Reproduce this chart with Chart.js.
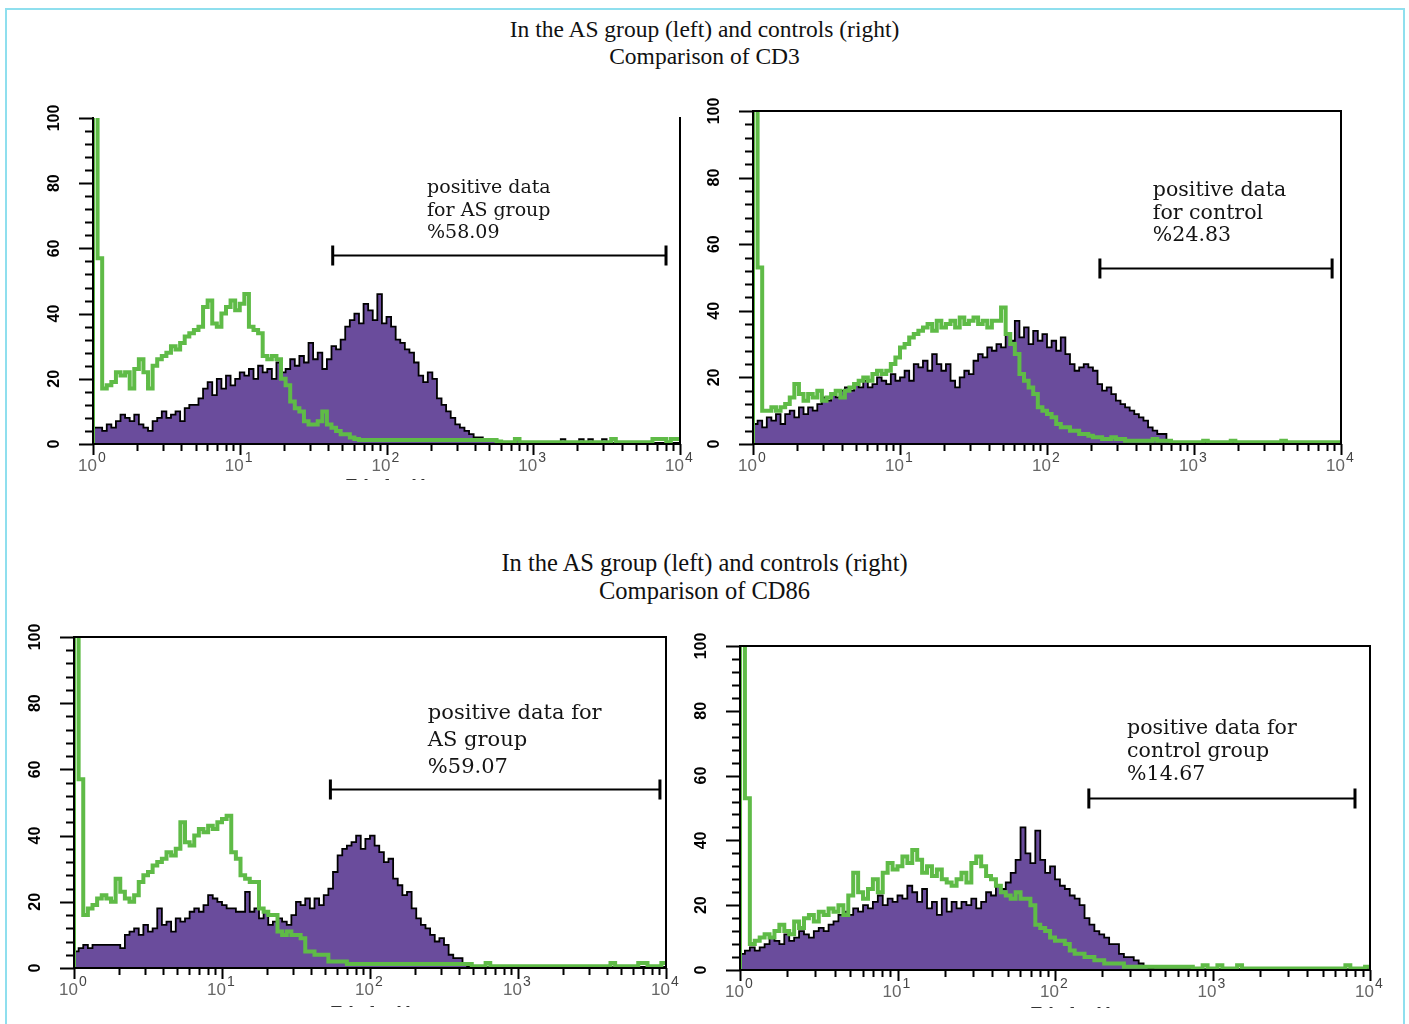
<!DOCTYPE html>
<html>
<head>
<meta charset="utf-8">
<script src="https://cdn.jsdelivr.net/npm/chart.js@4.4.0/dist/chart.umd.min.js"></script>
<style>
  body { margin: 0; background: #fff; width: 1409px; height: 1024px; overflow: hidden; position: relative; }
  .frame { position: absolute; left: 5px; top: 8px; width: 1396px; height: 1100px; border: 2px solid #8fdfee; }
  .title { position: absolute; left: 0; width: 1409px; text-align: center; font-family: "Liberation Serif", serif; color: #111; }
  .cut { position: absolute; height: 4px; overflow: hidden; font: bold 20px "Liberation Sans"; letter-spacing: 6px; color: #333; line-height: 20px; }
  canvas { position: absolute; }
</style>
</head>
<body>
<div class="frame"></div>
<div class="title" style="top:16px;font-size:23.5px;line-height:27px">In the AS group (left) and controls (right)<br>Comparison of CD3</div>
<div class="title" style="top:549px;font-size:24.5px;line-height:28px">In the AS group (left) and controls (right)<br>Comparison of CD86</div>
<canvas id="cd3As"></canvas>
<canvas id="cd3Ctrl"></canvas>
<canvas id="cd86As"></canvas>
<canvas id="cd86Ctrl"></canvas>
<div class="cut" style="left:345px;top:476px">FL1-H</div>
<div class="cut" style="left:330px;top:1003px">FL1-H</div>
<div class="cut" style="left:1030px;top:1004px">FL1-H</div>
<script>
// histogram channels: 32 log bins per decade, 10^0 .. 10^4 (lower edges + last edge)
const BINS_PER_DECADE = 32;
const channels = Array.from({ length: 129 }, (_, i) => Math.pow(10, i / BINS_PER_DECADE));
const yTicks = [0, 20, 40, 60, 80, 100];
const xDecades = [1, 10, 100, 1000, 10000];
const xExponents = ['0', '1', '2', '3', '4'];

// CD3, AS group (purple = stained, green = isotype)
const cd3AsStained = [
  5,5,4,6,5,7,9,8,7,9,6,5,4,7,8,10,
  8,9,10,7,11,12,12,14,17,19,15,20,17,21,18,20,
  22,21,23,20,24,22,23,20,25,22,23,26,24,27,25,31,
  26,28,23,26,30,29,32,36,38,40,37,43,41,38,46,37,
  39,36,32,31,29,28,25,21,19,22,20,14,12,10,8,6,
  5,4,3,2,2,1,1,1,0.5,0.5,0.5,0.5,1.5,0.5,0.3,0.3,
  0.3,0.3,0.3,0.3,0.3,0.3,1.5,0.3,0.3,0.3,1.5,0.3,1.5,0.3,0.3,1.5,
  0.3,0.3,0.3,0.3,0.3,0.3,0.3,0.3,0.3,0.3,0.3,0.3,0.3,0.3,0.3,0.3
];
const cd3AsIso = [
  120,57,17,18,19,22,21,22,17,23,26,22,17,24,26,27,
  28,30,29,31,33,34,35,36,42,44,37,36,40,42,44,41,
  43,46,36,35,34,27,26,27,26,20,18,13,11,10,7,6,
  6,7,10,6,5,4,3,3,2,1.5,1.2,1.2,1.2,1.2,1.2,1.2,
  1.2,1.2,1.2,1.2,1.2,1.2,1.2,1.2,1.2,1.2,1.2,1.2,1.2,1.2,1.2,1.2,
  1.2,1.2,1.2,1.2,1.2,1.2,1.2,1.2,0.8,0.5,0.5,0.5,1.5,0.5,0.5,0.5,
  0.5,0.5,0.5,0.5,0.5,0.5,0.5,0.5,0.5,0.5,0.5,0.5,0.5,0.5,0.5,0.5,
  0.5,1.5,0.5,0.5,0.5,0.5,0.5,0.5,0.5,0.5,1.5,1.5,1.5,0.5,1.5,1.5
];

// CD3, controls
const cd3CtrlStained = [
  6,7,5,8,7,9,6,9,10,8,11,9,11,10,12,14,
  13,15,14,16,17,16,18,17,19,17,18,20,19,18,21,19,
  20,22,19,24,23,25,22,27,24,22,24,19,17,20,22,21,
  25,27,26,29,28,30,29,33,31,37,32,35,30,34,31,33,
  29,31,28,32,27,24,22,23,24,23,22,18,16,17,15,13,
  12,11,10,9,8,7,5,4,3,3,1,0.5,0.5,0.5,0.5,0.5,
  0.5,0.5,0.5,0.5,0.5,0.5,0.5,0.5,0.5,0.5,0.5,0.5,0.5,0.5,0.5,0.5,
  0.3,0.3,0.3,0.3,0.3,0.3,0.3,0.3,0.3,0.3,0.3,0.3,0.3,0.3,0.3,0.3
];
const cd3CtrlIso = [
  120,53,10,10,11,10,11,12,14,18,15,13,15,14,16,13,
  14,15,16,14,16,17,18,19,20,19,21,22,21,22,24,26,
  29,30,32,33,34,35,36,34,37,35,36,37,35,38,36,37,
  38,36,37,35,37,37,41,33,30,27,21,19,17,15,11,10,
  9,8,6,5,5,4,4,3,3,2.5,2,2,1.5,1.5,2,1.5,
  1.5,1,1,1,1,1,1,1.5,1,1,1,0.5,0.5,0.5,0.5,0.5,
  0.5,0.5,1,0.5,0.5,0.5,0.5,0.5,1,0.5,0.5,0.5,0.5,0.5,0.5,0.5,
  0.5,0.5,0.5,1,0.5,0.5,0.5,0.5,0.5,0.5,0.5,0.5,0.5,0.5,0.5,0.5
];

// CD86, AS group
const cd86AsStained = [
  5,6,7,6,7,7,7,7,7,7,6,10,11,12,10,13,
  11,12,18,13,14,11,15,14,15,17,18,17,19,22,21,20,
  19,18,18,17,17,23,17,18,15,17,13,14,15,14,13,16,
  20,19,21,18,21,19,22,24,29,34,36,37,38,40,36,39,
  40,37,35,32,33,27,25,22,23,18,15,13,12,10,8,9,
  7,4,3,3,1,0.5,0.3,0.3,0.3,0.3,0.3,0.3,0.3,0.3,0.3,0.3,
  0.3,0.3,0.3,0.3,0.3,0.3,0.3,0.3,0.3,0.3,0.3,0.3,0.3,0.3,0.3,0.3,
  0.3,0.3,0.3,0.3,0.3,0.3,0.3,0.3,0.3,0.3,0.3,0.3,0.3,0.3,0.3,0.3
];
const cd86AsIso = [
  120,57,16,18,19,21,22,21,20,27,23,21,20,22,26,28,
  29,31,32,33,35,34,36,44,38,37,40,42,41,43,42,44,
  45,46,35,33,28,27,26,26,18,17,16,16,11,10,11,10,
  10,9,5,5,4,4,4,2,2,2,2,1.2,1.2,1.2,1.2,1.2,
  1.2,1.2,1.2,1.2,1.2,1.2,1.2,1.2,1.2,1.2,1.2,1.2,1.2,1.2,1.2,1.2,
  1.2,1.2,1.2,1.2,1.2,1.2,0.5,0.5,0.5,1.5,0.5,0.5,0.5,0.5,0.5,0.5,
  0.5,0.5,0.5,0.5,0.5,0.5,0.5,0.5,0.5,0.5,0.5,0.5,0.5,0.5,0.5,0.5,
  0.5,0.5,0.5,0.5,1.5,0.5,0.5,0.5,0.5,0.5,1.5,1.5,0.5,0.5,0.5,1.5
];

// CD86, controls
const cd86CtrlStained = [
  5,6,7,6,7,8,10,9,8,11,9,10,12,11,10,12,
  13,12,14,15,17,18,17,19,18,20,19,21,23,20,22,21,
  23,22,26,24,21,25,19,21,17,22,18,21,19,21,20,22,
  19,21,24,23,26,25,27,30,34,44,36,33,43,34,30,32,
  28,26,25,23,22,20,16,14,12,11,10,8,8,5,4,4,
  3,2,1,0.5,0.3,0.3,0.3,0.3,0.3,0.3,0.3,0.3,0.3,0.3,0.3,0.3,
  0.3,0.3,0.3,0.3,0.3,0.3,0.3,0.3,0.3,0.3,0.3,0.3,0.3,0.3,0.3,0.3,
  0.3,0.3,0.3,0.3,0.3,0.3,0.3,0.3,0.3,0.3,0.3,0.3,0.3,0.3,0.3,0.3
];
const cd86CtrlIso = [
  120,53,8,9,10,11,10,12,14,12,11,15,13,16,17,15,
  18,17,19,18,20,17,23,30,24,22,25,28,24,30,33,31,
  32,35,33,37,34,30,32,29,31,28,27,26,28,30,27,33,
  35,32,29,28,26,24,23,22,24,22,22,20,14,13,12,10,
  9,9,8,6,5,5,4,4,3,3,2,2,2,2,1,1,
  1,1,1,1,1,1,1,1,1,1,1,1,0.5,0.5,1.5,0.5,
  0.5,1.5,0.5,0.5,0.5,1.5,0.5,0.5,0.5,0.5,0.5,0.5,0.5,0.5,0.5,0.5,
  0.5,0.5,0.5,0.5,0.5,0.5,0.5,0.5,0.5,0.5,0.5,1.5,0.5,0.5,0.5,1
];

const panels = [
  { id: 'cd3As', box: { left: 93, top: 118, right: 680, bottom: 444 }, topLine: false,
    stained: cd3AsStained, iso: cd3AsIso,
    text: ['positive data', 'for AS group', '%58.09'], textAt: { x: 189, y: 78.5 }, lineH: 22.5, font: 19,
    gate: { from: 43, to: 8030, y: 58 } },
  { id: 'cd3Ctrl', box: { left: 753, top: 111, right: 1341, bottom: 444 }, topLine: true,
    stained: cd3CtrlStained, iso: cd3CtrlIso,
    text: ['positive data', 'for control', '%24.83'], textAt: { x: 525, y: 76 }, lineH: 22.5, font: 20.5,
    gate: { from: 229, to: 8700, y: 52.9 } },
  { id: 'cd86As', box: { left: 74, top: 637, right: 666, bottom: 968 }, topLine: true,
    stained: cd86AsStained, iso: cd86AsIso,
    text: ['positive data for', 'AS group', '%59.07'], textAt: { x: 246, y: 76.8 }, lineH: 27, font: 21,
    gate: { from: 54, to: 9100, y: 54.2 } },
  { id: 'cd86Ctrl', box: { left: 740, top: 646, right: 1370, bottom: 970 }, topLine: true,
    stained: cd86CtrlStained, iso: cd86CtrlIso,
    text: ['positive data for', 'control group', '%14.67'], textAt: { x: 287, y: 74.4 }, lineH: 23, font: 20.5,
    gate: { from: 164, to: 8030, y: 53 } }
];

function toSteps(vals, lead) {
  const pts = vals.map((v, i) => ({ x: channels[i], y: v }));
  pts.push({ x: channels[vals.length], y: vals[vals.length - 1] });
  if (lead) pts.unshift({ x: 1, y: 0 });
  return pts;
}

// axes, ticks, labels, gate bar and note text for one panel
function facsPlugin(p) {
  return {
    id: 'facs_' + p.id,
    afterDatasetsDraw(chart) {
      const { ctx, chartArea: a, scales: { x, y } } = chart;
      ctx.save();
      ctx.strokeStyle = '#000';
      ctx.lineWidth = 2;
      ctx.lineCap = 'butt';

      // frame
      ctx.beginPath();
      if (p.topLine) {
        ctx.moveTo(a.left, a.top); ctx.lineTo(a.right, a.top);
      }
      ctx.moveTo(a.left, a.top - 1); ctx.lineTo(a.left, a.bottom);
      ctx.lineTo(a.right, a.bottom); ctx.lineTo(a.right, a.top - 1);
      ctx.stroke();

      // y ticks (minor every 4)
      ctx.beginPath();
      for (let v = 0; v <= 100; v += 4) {
        const py = Math.round(y.getPixelForValue(v)) + 0.5;
        const len = v % 20 === 0 ? 14 : 8;
        ctx.moveTo(a.left - len, py); ctx.lineTo(a.left, py);
      }
      ctx.stroke();

      // x ticks (log minors)
      ctx.beginPath();
      for (let d = 0; d < 4; d++) {
        for (let k = 1; k <= 9; k++) {
          const px = Math.round(x.getPixelForValue(k * Math.pow(10, d))) + 0.5;
          const len = k === 1 ? 11 : 7;
          ctx.moveTo(px, a.bottom); ctx.lineTo(px, a.bottom + len);
        }
      }
      const pEnd = Math.round(x.getPixelForValue(10000)) + 0.5;
      ctx.moveTo(pEnd, a.bottom); ctx.lineTo(pEnd, a.bottom + 11);
      ctx.stroke();

      // y labels, rotated
      ctx.fillStyle = '#000';
      ctx.font = 'bold 16px "Liberation Sans"';
      ctx.textAlign = 'center';
      ctx.textBaseline = 'middle';
      yTicks.forEach(v => {
        ctx.save();
        ctx.translate(a.left - 38, y.getPixelForValue(v));
        ctx.rotate(-Math.PI / 2);
        ctx.fillText(String(v), 0, 0);
        ctx.restore();
      });

      // x labels 10^n
      xDecades.forEach((v, i) => {
        const px = x.getPixelForValue(v);
        ctx.font = '17px "Liberation Sans"';
        ctx.fillStyle = '#666';
        ctx.textAlign = 'right';
        ctx.fillText('10', px + 4, a.bottom + 22);
        ctx.font = '14px "Liberation Sans"';
        ctx.fillStyle = '#444';
        ctx.textAlign = 'left';
        ctx.fillText(xExponents[i], px + 5, a.bottom + 14);
      });

      // positive gate bar
      const g = p.gate;
      const gx1 = x.getPixelForValue(g.from), gx2 = x.getPixelForValue(g.to);
      const gy = Math.round(y.getPixelForValue(g.y)) + 0.5;
      ctx.lineWidth = 2;
      ctx.beginPath();
      ctx.moveTo(gx1, gy); ctx.lineTo(gx2, gy);
      ctx.stroke();
      ctx.lineWidth = 3;
      ctx.beginPath();
      ctx.moveTo(gx1, gy - 10); ctx.lineTo(gx1, gy + 10);
      ctx.moveTo(gx2, gy - 10); ctx.lineTo(gx2, gy + 10);
      ctx.stroke();

      // note text
      ctx.fillStyle = '#141414';
      ctx.font = p.font + 'px "DejaVu Serif"';
      ctx.textAlign = 'left';
      ctx.textBaseline = 'middle';
      const tx = x.getPixelForValue(p.textAt.x);
      const ty = y.getPixelForValue(p.textAt.y);
      p.text.forEach((line, i) => ctx.fillText(line, tx, ty + i * p.lineH));
      ctx.restore();
    }
  };
}

const PAD_L = 60, PAD_T = 20, PAD_R = 20, PAD_B = 45;

panels.forEach(p => {
  const canvas = document.getElementById(p.id);
  const w = p.box.right - p.box.left + PAD_L + PAD_R;
  const h = p.box.bottom - p.box.top + PAD_T + PAD_B;
  canvas.width = w;
  canvas.height = h;
  canvas.style.left = (p.box.left - PAD_L) + 'px';
  canvas.style.top = (p.box.top - PAD_T) + 'px';
  canvas.style.width = w + 'px';
  canvas.style.height = h + 'px';

  new Chart(canvas.getContext('2d'), {
    type: 'line',
    data: {
      datasets: [
        {
          label: 'isotype',
          data: toSteps(p.iso, true),
          stepped: 'before',
          borderColor: '#5fbb47',
          borderWidth: 4,
          borderJoinStyle: 'miter',
          fill: false,
          pointRadius: 0,
          order: 0
        },
        {
          label: 'stained',
          data: toSteps(p.stained, false),
          stepped: 'before',
          borderColor: '#000',
          borderWidth: 1.8,
          backgroundColor: '#6a4c9c',
          fill: 'origin',
          pointRadius: 0,
          order: 1
        }
      ]
    },
    options: {
      responsive: false,
      animation: false,
      devicePixelRatio: 1,
      events: [],
      layout: { padding: { left: 0, top: PAD_T, right: PAD_R, bottom: 0 } },
      plugins: { legend: { display: false }, tooltip: { enabled: false } },
      scales: {
        x: {
          type: 'logarithmic', min: 1, max: 10000,
          grid: { display: false }, border: { display: false },
          ticks: { display: false },
          afterFit: s => { s.height = PAD_B; }
        },
        y: {
          type: 'linear', min: 0, max: 100,
          grid: { display: false }, border: { display: false },
          ticks: { display: false },
          afterFit: s => { s.width = PAD_L; }
        }
      }
    },
    plugins: [facsPlugin(p)]
  });
});
</script>
</body>
</html>
